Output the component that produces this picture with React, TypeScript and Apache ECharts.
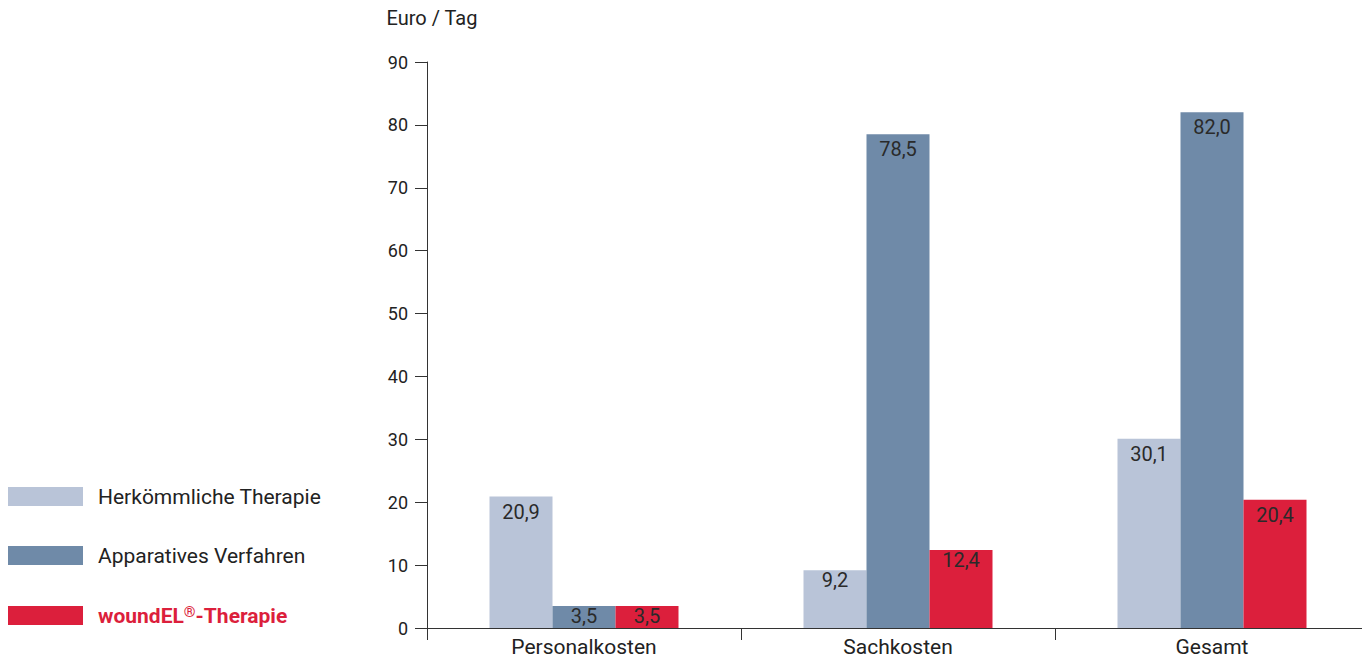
import React, { useEffect, useRef } from "react";
import * as echarts from "echarts";

const categories = ["Personalkosten", "Sachkosten", "Gesamt"];
const herkoemmlich = [20.9, 9.2, 30.1];
const apparativ = [3.5, 78.5, 82.0];
const woundel = [3.5, 12.4, 20.4];
const seriesNames = ["Herkömmliche Therapie", "Apparatives Verfahren", "woundEL®-Therapie"];

const FONT = "Roboto";

export default function App() {
  const ref = useRef<HTMLDivElement>(null);
  useEffect(() => {
    if (!ref.current) return;
    const chart = echarts.init(ref.current, undefined, { renderer: "svg" });
    const label = {
      show: true,
      position: "insideTop",
      distance: 5,
      color: "#2a2a2a",
      fontSize: 20,
      fontFamily: FONT,
      formatter: (p: any) => Number(p.value).toFixed(1).replace(".", ","),
    };
    const colors = ["#b9c4d8", "#6f8aa8", "#dc1f3c"];
    const data = [herkoemmlich, apparativ, woundel];
    chart.setOption({
      animation: false,
      grid: { left: 427, top: 62, bottom: 31, right: -7, outerBoundsMode: "none", containLabel: false },
      legend: {
        orient: "vertical",
        left: 8,
        top: 486,
        padding: 0,
        itemWidth: 75,
        itemHeight: 19,
        itemGap: 38,
        icon: "rect",
        selectedMode: false,
        textStyle: {
          fontSize: 21,
          fontFamily: FONT,
          color: "#222",
          padding: [0, 0, 0, 10],
          rich: {
            sup: { fontSize: 15, verticalAlign: "top", color: "#dc1f3c", fontWeight: "bold", padding: [0, 0, 8, 0], fontFamily: FONT },
            red: { fontSize: 21, color: "#dc1f3c", fontWeight: "bold", fontFamily: FONT },
          },
        },
        formatter: (name: string) =>
          name === seriesNames[2] ? "{red|woundEL}{sup|®}{red|-Therapie}" : name,
        data: [
          { name: seriesNames[0] },
          { name: seriesNames[1] },
          { name: seriesNames[2], textStyle: { color: "#dc1f3c", fontWeight: "bold" } },
        ],
      },
      xAxis: {
        type: "category",
        data: categories,
        axisLine: { lineStyle: { color: "#333", width: 1 } },
        axisTick: { show: true, length: 12, lineStyle: { color: "#333" } },
        axisLabel: { fontSize: 21, fontFamily: FONT, color: "#222", margin: 8 },
      },
      yAxis: {
        type: "value",
        min: 0,
        max: 90,
        interval: 10,
        name: "Euro / Tag",
        nameLocation: "end",
        nameGap: 34,
        nameTextStyle: { fontSize: 20, fontFamily: FONT, color: "#222", align: "center", padding: [0, 0, 0, 10] },
        splitLine: { show: false },
        axisLine: { show: true, lineStyle: { color: "#333", width: 1 } },
        axisTick: { show: true, length: 12, lineStyle: { color: "#333" } },
        axisLabel: { fontSize: 18, fontFamily: FONT, color: "#222", margin: 19 },
      },
      series: data.map((d, i) => ({
        name: seriesNames[i],
        type: "bar",
        data: d.map((v) => ({ value: v, label: { distance: v < 15 ? 0 : 5 } })),
        barWidth: 63,
        barGap: "0%",
        itemStyle: { color: colors[i] },
        label,
      })),
    });
    return () => chart.dispose();
  }, []);
  return (
    <div
      ref={ref}
      style={{ position: "fixed", left: 0, top: 0, width: 1362, height: 659, background: "#fff" }}
    />
  );
}
